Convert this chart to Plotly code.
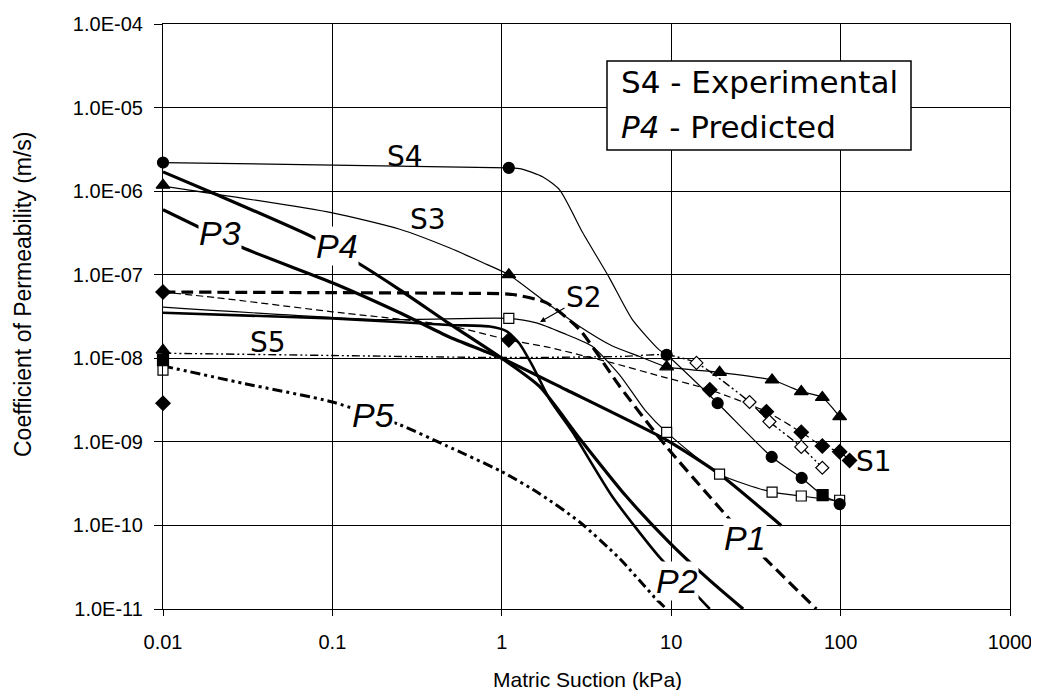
import plotly.graph_objects as go

# ---------------- data ----------------
x_ticks = [0.01, 0.1, 1, 10, 100, 1000]
x_tick_text = ["0.01", "0.1", "1", "10", "100", "1000"]
y_ticks = [1e-11, 1e-10, 1e-9, 1e-8, 1e-7, 1e-6, 1e-5, 1e-4]
y_tick_text = ["1.0E-11", "1.0E-10", "1.0E-09", "1.0E-08", "1.0E-07", "1.0E-06", "1.0E-05", "1.0E-04"]

# Experimental curves (thin lines) and their measured points
s1_line_x = [0.01, 0.0208, 0.1, 0.47, 1.1, 1.84, 2.88, 4.5, 8.9, 16.9, 36.5, 58.6, 78, 98.7, 113]
s1_line_y = [6.2e-8, 5.3e-8, 3.6e-8, 2.5e-8, 1.66e-8, 1.37e-8, 1.1e-8, 8.8e-9, 6.0e-9, 4.2e-9, 2.3e-9, 1.3e-9, 8.9e-10, 7.6e-10, 6.0e-10]
s1_pts_x = [0.01, 0.01, 1.1, 16.9, 36.5, 58.6, 78, 98.7, 113]
s1_pts_y = [6.2e-8, 2.9e-9, 1.66e-8, 4.2e-9, 2.3e-9, 1.3e-9, 8.9e-10, 7.6e-10, 6.0e-10]

s2_line_x = [0.01, 0.19, 1.1, 1.6, 2.3, 3.4, 4.97, 7.0, 9.4, 19.3, 39.4, 58.6, 98.7]
s2_line_y = [4.1e-8, 2.9e-8, 3.0e-8, 2.65e-8, 2.0e-8, 1.4e-8, 6.3e-9, 2.4e-9, 1.3e-9, 4.1e-10, 2.5e-10, 2.25e-10, 1.95e-10]
s2_pts_x = [0.01, 1.1, 9.4, 19.3, 39.4, 58.6, 98.7]
s2_pts_y = [7.2e-9, 3.0e-8, 1.3e-9, 4.1e-10, 2.5e-10, 2.25e-10, 2.0e-10]

s3_line_x = [0.01, 0.1, 0.25, 0.49, 0.77, 1.1, 1.84, 2.88, 4.5, 6.5, 9.4, 19.3, 39.4, 58.6, 78, 98.7]
s3_line_y = [1.15e-6, 5.5e-7, 3.5e-7, 2.1e-7, 1.4e-7, 1.0e-7, 4.6e-8, 2.4e-8, 1.4e-8, 1.05e-8, 7.9e-9, 6.8e-9, 5.5e-9, 4.0e-9, 3.4e-9, 2.0e-9]
s3_pts_x = [0.01, 0.01, 1.1, 9.4, 19.3, 39.4, 58.6, 78, 98.7]
s3_pts_y = [1.18e-6, 1.25e-8, 1.0e-7, 7.9e-9, 6.8e-9, 5.5e-9, 4.0e-9, 3.4e-9, 2.0e-9]

s4_line_x = [0.01, 1.1, 1.3, 1.75, 2.2, 3.0, 4.3, 5.9, 8.5, 9.4, 18.8, 39.2, 58.9, 78.3, 98.7]
s4_line_y = [2.2e-6, 1.9e-6, 1.85e-6, 1.48e-6, 1.03e-6, 3.2e-7, 9.3e-8, 2.9e-8, 1.26e-8, 1.1e-8, 2.9e-9, 6.6e-10, 3.7e-10, 2.3e-10, 1.86e-10]
s4_pts_x = [0.01, 0.01, 1.1, 9.4, 18.8, 39.2, 58.9, 78.3, 98.7]
s4_pts_y = [2.2e-6, 9.5e-9, 1.9e-6, 1.1e-8, 2.9e-9, 6.6e-10, 3.7e-10, 2.3e-10, 1.8e-10]
s4_pts_symbol = ["circle", "square", "circle", "circle", "circle", "circle", "circle", "square", "circle"]

s5_line_x = [0.01, 0.1, 1.0, 5.0, 9.4, 14.1, 29, 38, 58.6, 78]
s5_line_y = [1.15e-8, 1.08e-8, 1.02e-8, 1.05e-8, 1.1e-8, 8.8e-9, 3.0e-9, 1.75e-9, 8.7e-10, 4.9e-10]
s5_pts_x = [14.1, 29, 38, 58.6, 78]
s5_pts_y = [8.8e-9, 3.0e-9, 1.75e-9, 8.7e-10, 4.9e-10]

# Predicted curves (heavy lines)
p1_x = [0.01, 0.1, 0.5, 1.16, 1.84, 2.88, 4.97, 9.4, 16.9, 33.3, 72]
p1_y = [6.2e-8, 6.1e-8, 6.0e-8, 5.8e-8, 4.6e-8, 2.2e-8, 4.6e-9, 8.7e-10, 2.2e-10, 4.7e-11, 1.0e-11]

p2_x = [0.01, 0.1, 0.49, 0.85, 1.07, 1.27, 1.53, 1.92, 2.62, 4.5, 8.5, 14, 16.9]
p2_y = [3.5e-8, 3.0e-8, 2.5e-8, 2.4e-8, 2.1e-8, 1.5e-8, 7.9e-9, 3.2e-9, 1.3e-9, 2.2e-10, 4.2e-11, 1.5e-11, 1.0e-11]

p3_x = [0.01, 0.0296, 0.1, 0.25, 0.49, 1.0, 2.4, 9.4, 19.3, 44.6]
p3_y = [6.0e-7, 2.1e-7, 8.0e-8, 3.5e-8, 1.8e-8, 1.0e-8, 4.2e-9, 1.05e-9, 4.1e-10, 1.0e-10]

p4_x = [0.01, 0.0197, 0.077, 0.14, 0.25, 0.49, 1.0, 1.67, 2.88, 5.46, 9.8, 16.9, 26.6]
p4_y = [1.7e-6, 9.5e-7, 2.8e-7, 1.4e-7, 6.6e-8, 2.6e-8, 1.0e-8, 4.6e-9, 1.1e-9, 2.2e-10, 6.2e-11, 2.2e-11, 1.0e-11]

p5_x = [0.01, 0.03, 0.1, 0.25, 0.47, 1.0, 1.67, 2.88, 4.97, 8.2, 9.4]
p5_y = [8.1e-9, 5.0e-9, 3.0e-9, 1.6e-9, 9.0e-10, 4.4e-10, 2.4e-10, 1.1e-10, 4.0e-11, 1.3e-11, 1.0e-11]

# ---------------- layout geometry ----------------
# the page body has an 8 px margin, so the figure is drawn 8 px smaller
PAGE_OFF = 8
W, H = 1039 - PAGE_OFF, 690 - PAGE_OFF
PLOT_L, PLOT_R, PLOT_T, PLOT_B = 163, 1010, 24, 609   # plot area on screen
ML = PLOT_L - PAGE_OFF
MT = PLOT_T - PAGE_OFF
MR = W - (PLOT_R - PAGE_OFF)
MB = H - (PLOT_B - PAGE_OFF)
PW, PH = PLOT_R - PLOT_L, PLOT_B - PLOT_T


def px(x):
    return (x - PLOT_L) / PW


def py(y):
    return 1 - (y - PLOT_T) / PH


BLACK = "black"
fig = go.Figure()


def add_line(x, y, width, dash="solid", smooth=0.6):
    fig.add_trace(go.Scatter(
        x=x, y=y, mode="lines",
        line=dict(color=BLACK, width=width, dash=dash, shape="spline", smoothing=smooth),
        hoverinfo="skip", showlegend=False))


def add_pts(x, y, symbol, size=10, open_=False):
    fig.add_trace(go.Scatter(
        x=x, y=y, mode="markers", cliponaxis=False,
        marker=dict(symbol=symbol, size=size,
                    color="white" if open_ else BLACK,
                    line=dict(color=BLACK, width=1.2)),
        hoverinfo="skip", showlegend=False))


# predicted
add_line(p1_x, p1_y, 3.2, dash="12px,6px")
add_line(p2_x, p2_y, 2.6)
add_line(p3_x, p3_y, 3.2)
add_line(p4_x, p4_y, 3.2)
add_line(p5_x, p5_y, 3.0, dash="10px,4px,3px,4px,3px,4px")

# experimental
add_line(s1_line_x, s1_line_y, 1.2, dash="7px,4px")
add_line(s2_line_x, s2_line_y, 1.2)
add_line(s3_line_x, s3_line_y, 1.2)
add_line(s4_line_x, s4_line_y, 1.2)
add_line(s5_line_x, s5_line_y, 1.4, dash="8px,3px,2px,3px,2px,3px")

add_pts(s1_pts_x, s1_pts_y, "diamond", 11)
add_pts(s2_pts_x, s2_pts_y, "square", 10, open_=True)
add_pts(s3_pts_x, s3_pts_y, "triangle-up", 12)
add_pts(s4_pts_x, s4_pts_y, s4_pts_symbol, 11)
add_pts(s5_pts_x, s5_pts_y, "diamond", 10, open_=True)

axis_common = dict(
    type="log", showgrid=True, gridcolor=BLACK, gridwidth=1.2,
    showline=True, linecolor=BLACK, linewidth=1.2, mirror=True,
    ticks="outside", tickcolor=BLACK, zeroline=False,
    tickfont=dict(family="Liberation Sans, Arial, sans-serif", size=20, color=BLACK),
)

fig.update_layout(
    width=W, height=H,
    margin=dict(l=ML, r=MR, t=MT, b=MB, autoexpand=False),
    paper_bgcolor="white", plot_bgcolor="white",
    showlegend=False,
    xaxis=dict(axis_common, range=[-2, 3], tickvals=x_ticks, ticktext=x_tick_text,
               ticklen=6, ticklabelstandoff=9, automargin=False),
    yaxis=dict(axis_common, range=[-11, -4], tickvals=y_ticks, ticktext=y_tick_text,
               ticklen=8, ticklabelstandoff=7, automargin=False),
)

ann = []
# axis titles
ann.append(dict(x=px(587), y=py(679), xref="paper", yref="paper", text="Matric Suction (kPa)",
                showarrow=False, xanchor="center", yanchor="middle",
                font=dict(family="Liberation Sans, Arial", size=21, color=BLACK)))
ann.append(dict(x=px(23), y=py(294), xref="paper", yref="paper",
                text="Coefficient of Permeability (m/s)", textangle=-90,
                showarrow=False, xanchor="center", yanchor="middle",
                font=dict(family="Liberation Sans, Arial", size=23, color=BLACK)))

# curve labels: experimental
s_font = dict(family="DejaVu Sans", size=28, color=BLACK)
for txt, cx, cy in [("S4", 405, 157), ("S3", 428, 220), ("S5", 268, 342), ("S1", 874, 461)]:
    ann.append(dict(x=px(cx), y=py(cy), xref="paper", yref="paper", text=txt,
                    showarrow=False, xanchor="center", yanchor="middle", font=s_font))
# S2 with arrow
ann.append(dict(x=px(540), y=py(322), xref="paper", yref="paper", text="S2",
                showarrow=True, arrowhead=2, arrowsize=1, arrowwidth=1.1, arrowcolor=BLACK,
                ax=44, ay=-25, font=s_font))

# curve labels: predicted (italic, masking the lines)
p_font = dict(family="Liberation Sans, Arial", size=34, color=BLACK)
for txt, cx, cy in [("P3", 220, 233), ("P4", 337, 246), ("P5", 373, 415),
                    ("P1", 745, 538), ("P2", 677, 581)]:
    ann.append(dict(x=px(cx), y=py(cy), xref="paper", yref="paper", text="<i>" + txt + "</i>",
                    showarrow=False, xanchor="center", yanchor="middle", font=p_font,
                    bgcolor="white", borderpad=0))

# legend box
fig.add_shape(type="rect", xref="paper", yref="paper",
              x0=px(607), x1=px(911), y0=py(150), y1=py(61),
              line=dict(color=BLACK, width=1.5), fillcolor="white", layer="above")
leg_font = dict(family="DejaVu Sans", size=31, color=BLACK)
ann.append(dict(x=px(619), y=py(82), xref="paper", yref="paper", text="S4 - Experimental",
                showarrow=False, xanchor="left", yanchor="middle", font=leg_font))
ann.append(dict(x=px(619), y=py(127), xref="paper", yref="paper", text="<i>P4</i> - Predicted",
                showarrow=False, xanchor="left", yanchor="middle", font=leg_font))

fig.update_layout(annotations=ann)
fig.write_html("out.html")
